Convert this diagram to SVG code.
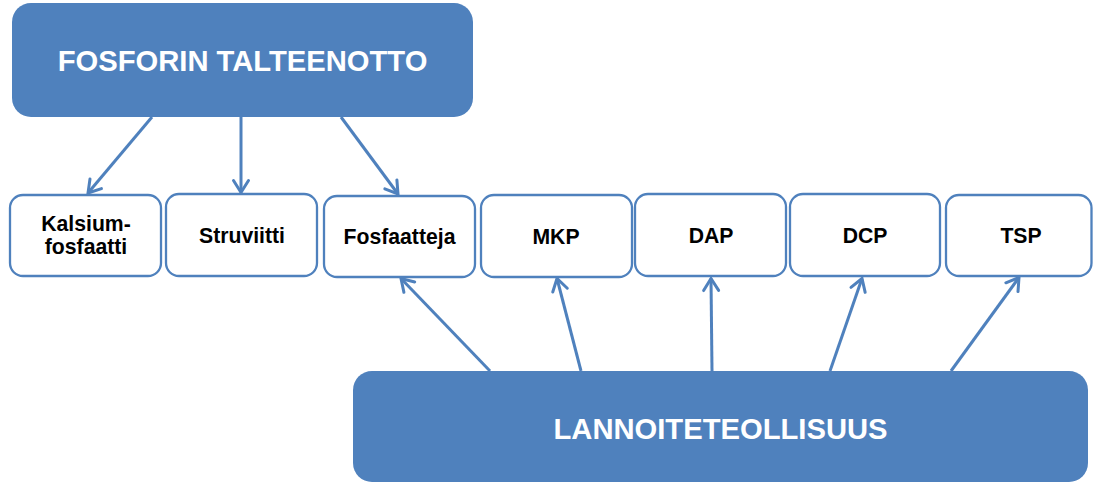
<svg xmlns="http://www.w3.org/2000/svg" width="1093" height="483" viewBox="0 0 1093 483">
  <style>
    .hub { fill: #4F81BD; }
    .hub-label { fill: #FFFFFF; font-family: "Liberation Sans", Arial, sans-serif; font-weight: bold; font-size: 29.2px; text-anchor: middle; }
    .item { fill: #FFFFFF; stroke: #4F81BD; stroke-width: 2.3; }
    .item-label { fill: #000000; font-family: "Liberation Sans", Arial, sans-serif; font-weight: bold; font-size: 21.2px; text-anchor: middle; }
    .link { fill: none; stroke: #4F81BD; stroke-width: 3; marker-end: url(#arrow); }
  </style>
  <defs>
    <marker id="arrow" markerUnits="userSpaceOnUse" viewBox="-16 -10 20 20" refX="0" refY="0" markerWidth="20" markerHeight="20" orient="auto">
      <path d="M -12 -7.5 L 0 0 L -12 7.5" fill="none" stroke="#4F81BD" stroke-width="3" stroke-linecap="round" stroke-linejoin="miter"/>
    </marker>
  </defs>

  <rect width="1093" height="483" fill="#FFFFFF"/>

  <!-- connectors -->
  <g id="connectors">
    <line class="link" x1="152" y1="117" x2="88" y2="193"/>
    <line class="link" x1="241" y1="117" x2="241" y2="192.5"/>
    <line class="link" x1="341" y1="117" x2="398" y2="194"/>
    <line class="link" x1="490" y1="371" x2="401" y2="278.5"/>
    <line class="link" x1="581" y1="371" x2="557" y2="278.5"/>
    <line class="link" x1="712" y1="371" x2="711" y2="278.5"/>
    <line class="link" x1="830" y1="371" x2="862" y2="278.5"/>
    <line class="link" x1="951" y1="371" x2="1019" y2="277.5"/>
  </g>

  <!-- source hub -->
  <g id="fosforin-talteenotto">
    <rect class="hub" x="12" y="3" width="461" height="114" rx="19" ry="19"/>
    <text class="hub-label" x="242.5" y="71">FOSFORIN TALTEENOTTO</text>
  </g>

  <!-- product boxes -->
  <g id="kalsiumfosfaatti">
    <rect class="item" x="10" y="195" width="151" height="81" rx="13" ry="13"/>
    <text class="item-label" x="86" y="231">Kalsium-</text>
    <text class="item-label" x="86" y="254">fosfaatti</text>
  </g>
  <g id="struviitti">
    <rect class="item" x="166" y="194" width="151" height="82" rx="13" ry="13"/>
    <text class="item-label" x="242" y="243">Struviitti</text>
  </g>
  <g id="fosfaatteja">
    <rect class="item" x="324" y="196" width="151" height="81" rx="13" ry="13"/>
    <text class="item-label" x="399.5" y="243.5">Fosfaatteja</text>
  </g>
  <g id="mkp">
    <rect class="item" x="481" y="195" width="151" height="82" rx="13" ry="13"/>
    <text class="item-label" x="556" y="243.5">MKP</text>
  </g>
  <g id="dap">
    <rect class="item" x="635" y="194" width="151" height="82" rx="13" ry="13"/>
    <text class="item-label" x="711" y="243">DAP</text>
  </g>
  <g id="dcp">
    <rect class="item" x="790" y="194" width="150" height="82" rx="13" ry="13"/>
    <text class="item-label" x="865" y="243">DCP</text>
  </g>
  <g id="tsp">
    <rect class="item" x="946" y="195" width="145.5" height="81" rx="13" ry="13"/>
    <text class="item-label" x="1021" y="243">TSP</text>
  </g>

  <!-- target hub -->
  <g id="lannoiteteollisuus">
    <rect class="hub" x="353" y="371" width="735" height="111" rx="19" ry="19"/>
    <text class="hub-label" x="720.5" y="438.5">LANNOITETEOLLISUUS</text>
  </g>
</svg>
